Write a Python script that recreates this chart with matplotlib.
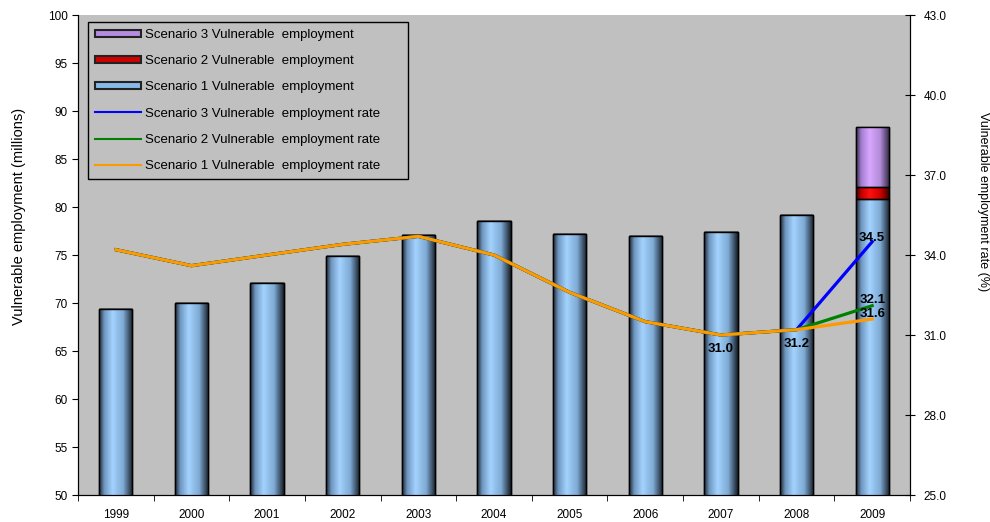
import matplotlib.pyplot as plt
import numpy as np
from matplotlib.colors import LinearSegmentedColormap
from matplotlib.patches import Patch
from matplotlib.lines import Line2D

plt.rcParams['font.family'] = ['Liberation Sans', 'DejaVu Sans']

# data
years = ['1999', '2000', '2001', '2002', '2003', '2004', '2005', '2006', '2007', '2008', '2009']
scen1_emp = [69.4, 70.0, 72.1, 74.9, 77.1, 78.5, 77.2, 77.0, 77.4, 79.2, 80.8]
scen2_extra = [0, 0, 0, 0, 0, 0, 0, 0, 0, 0, 1.3]
scen3_extra = [0, 0, 0, 0, 0, 0, 0, 0, 0, 0, 6.2]
rate1 = [34.2, 33.6, 34.0, 34.4, 34.7, 34.0, 32.6, 31.5, 31.0, 31.2, 31.6]
rate2 = [34.2, 33.6, 34.0, 34.4, 34.7, 34.0, 32.6, 31.5, 31.0, 31.2, 32.1]
rate3 = [34.2, 33.6, 34.0, 34.4, 34.7, 34.0, 32.6, 31.5, 31.0, 31.2, 34.5]

fig = plt.figure(figsize=(9.9, 5.22), dpi=100)
ax = fig.add_axes([0.0788, 0.0517, 0.8404, 0.9195])
ax.set_facecolor('#C0C0C0')
x = np.arange(len(years))
w = 0.44

# cylinder look: a sideways gradient clipped to each bar
def cyl(cols):
    return LinearSegmentedColormap.from_list('c', list(zip([0, 0.15, 0.4, 0.72, 1.0], cols)))

blue = cyl(['#1e2833', '#6f97c0', '#a3d3ff', '#7ea9d3', '#18202a'])
red = cyl(['#3a0000', '#c00000', '#ff1010', '#d00000', '#300000'])
purple = cyl(['#3a2a4a', '#a27ecf', '#d9a6ff', '#b08bd8', '#2f2540'])
grad = np.linspace(0, 1, 64).reshape(1, -1)

b1 = ax.bar(x, scen1_emp, w, bottom=0, color='#99CCFF', edgecolor='black', lw=1, zorder=2)
b2 = ax.bar(x, scen2_extra, w, bottom=scen1_emp, color='#FF0000', edgecolor='black', lw=1, zorder=2)
bot3 = [a + b for a, b in zip(scen1_emp, scen2_extra)]
b3 = ax.bar(x, scen3_extra, w, bottom=bot3, color='#CC99FF', edgecolor='black', lw=1, zorder=2)

for bars, cm in [(b1, blue), (b2, red), (b3, purple)]:
    for p in bars:
        if p.get_height() <= 0:
            continue
        x0, y0 = p.get_x(), p.get_y()
        im = ax.imshow(grad, cmap=cm, aspect='auto', zorder=2.5,
                       extent=(x0, x0 + p.get_width(), max(y0, 50), y0 + p.get_height()))
        im.set_clip_path(p)
        # redraw the outline on top
        ax.bar(x0 + p.get_width() / 2, p.get_height(), p.get_width(), bottom=y0,
               fill=False, edgecolor='black', lw=1, zorder=3)

ax.set_xlim(-0.5, len(years) - 0.5)
ax.set_ylim(50, 100)
ax.set_yticks(range(50, 101, 5))
ax.set_xticks(x)
ax.set_xticklabels(years)
ax.set_xticks(np.arange(-0.5, len(years), 1), minor=True)
ax.tick_params(axis='x', which='major', length=0, pad=10, labelsize=8.5)
ax.tick_params(axis='x', which='minor', length=4, direction='out')
ax.tick_params(axis='y', length=4, labelsize=8.5, direction='out')
ax.set_ylabel('Vulnerable employment (millions)', fontsize=10.5)
ax.yaxis.set_label_coords(-0.063, 0.58)
ax.spines['top'].set_visible(False)

ax2 = ax.twinx()
ax2.set_ylim(25, 43)
ax2.set_yticks(np.arange(25, 43.1, 3))
ax2.set_yticklabels(['%.1f' % v for v in np.arange(25, 43.1, 3)])
ax2.tick_params(axis='y', direction='inout', length=7, labelsize=8.5, pad=6)
ax2.spines['top'].set_visible(False)
ax2.set_ylabel('Vulnerable employment rate (%)', fontsize=9, rotation=270, va='bottom')
ax2.yaxis.set_label_coords(1.08, 0.612)

ax2.plot(x, rate3, color='#0000FF', lw=2.3, zorder=4)
ax2.plot(x, rate2, color='#008000', lw=2.3, zorder=5)
ax2.plot(x, rate1, color='#FF9900', lw=2.3, zorder=6)

lab = dict(fontsize=9.5, fontweight='bold', ha='center', zorder=7)
ax2.text(x[8], rate1[8] - 0.3, '%.1f' % rate1[8], va='top', **lab)
ax2.text(x[9], rate1[9] - 0.3, '%.1f' % rate1[9], va='top', **lab)
ax2.text(x[10], rate3[10] + 0.15, '%.1f' % rate3[10], va='center', **lab)
ax2.text(x[10], rate2[10] + 0.22, '%.1f' % rate2[10], va='center', **lab)
ax2.text(x[10], rate1[10] + 0.18, '%.1f' % rate1[10], va='center', **lab)

handles = [
    Patch(facecolor='#B48CE0', edgecolor='#222222', lw=1.5),
    Patch(facecolor='#D00000', edgecolor='#222222', lw=1.5),
    Patch(facecolor='#88B8E8', edgecolor='#222222', lw=1.5),
    Line2D([], [], color='#0000FF', lw=1.5),
    Line2D([], [], color='#008000', lw=1.5),
    Line2D([], [], color='#FF9900', lw=1.5),
]
labels = ['Scenario 3 Vulnerable  employment', 'Scenario 2 Vulnerable  employment',
          'Scenario 1 Vulnerable  employment', 'Scenario 3 Vulnerable  employment rate',
          'Scenario 2 Vulnerable  employment rate', 'Scenario 1 Vulnerable  employment rate']
leg = ax2.legend(handles, labels, loc='upper left', bbox_to_anchor=(0.012, 0.5, 0.3846, 0.485),
                 mode='expand', borderaxespad=0, fontsize=9.5, frameon=True, fancybox=False,
                 labelspacing=1.08, handlelength=3.5, handleheight=0.45, handletextpad=0.3,
                 borderpad=0.5)
leg.get_frame().set_facecolor('#C0C0C0')
leg.get_frame().set_edgecolor('black')
leg.get_frame().set_alpha(1)

fig.savefig('out.png', dpi=100)
